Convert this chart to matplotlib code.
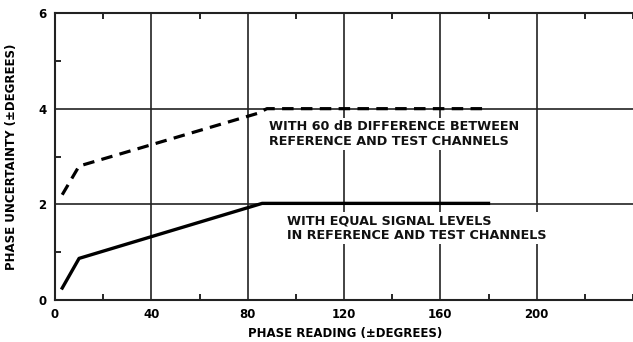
import matplotlib
matplotlib.use("Agg")
import matplotlib.pyplot as plt
from matplotlib.ticker import MultipleLocator

# Phase uncertainty vs phase reading
reading_60db = [3, 10, 84, 88, 180]
uncert_60db = [2.2, 2.8, 3.9, 4.0, 4.0]

reading_equal = [3, 10, 86, 180]
uncert_equal = [0.25, 0.87, 2.02, 2.02]

x_ticks = [0, 40, 80, 120, 160, 200]
y_ticks = [0, 2, 4, 6]

label_60db = "WITH 60 dB DIFFERENCE BETWEEN\nREFERENCE AND TEST CHANNELS"
label_equal = "WITH EQUAL SIGNAL LEVELS\nIN REFERENCE AND TEST CHANNELS"

plt.rcParams['font.family'] = ['DejaVu Sans']

fig = plt.figure(figsize=(6.33, 3.42), dpi=100)
ax = fig.add_axes([55 / 633, 1 - 300 / 342, 1 - 55 / 633, (300 - 13) / 342])

ax.set_xlim(0, 240)
ax.set_ylim(0, 6)

# grid
for xv in x_ticks[1:]:
    ax.axvline(xv, color='#222222', lw=1.2, zorder=1)
for yv in y_ticks[1:-1]:
    ax.axhline(yv, color='#222222', lw=1.2, zorder=1)

ax.plot(reading_60db, uncert_60db, color='black', lw=2.3, dashes=(3.6, 2.3),
        solid_capstyle='butt', zorder=3)
ax.plot(reading_equal, uncert_equal, color='black', lw=2.4, zorder=3)

txt_kw = dict(fontsize=9.2, fontweight='bold', color='#111111', va='center', ha='left',
              linespacing=1.15, zorder=4,
              bbox=dict(facecolor='white', edgecolor='none', pad=1.5))
ax.text(89, 3.47, label_60db, **txt_kw)
ax.text(96.5, 1.5, label_equal, **txt_kw)

ax.spines['right'].set_visible(False)
for s in ('left', 'bottom', 'top'):
    ax.spines[s].set_linewidth(1.5)
    ax.spines[s].set_color('#222222')

ax.set_xticks(x_ticks)
ax.set_yticks(y_ticks)
ax.xaxis.set_minor_locator(MultipleLocator(20))
ax.yaxis.set_minor_locator(MultipleLocator(1))
ax.tick_params(which='major', length=0, labelsize=8.5, pad=6)
ax.tick_params(which='minor', direction='in', length=4, width=1.2, top=True)
for lab in ax.get_xticklabels() + ax.get_yticklabels():
    lab.set_fontweight('bold')

ax.set_xlabel("PHASE READING (\u00b1DEGREES)", fontsize=8.5, fontweight='bold', labelpad=6)
ax.xaxis.set_label_coords((345 - 55) / 578, -27 / 287)
ax.set_ylabel("PHASE UNCERTAINTY (\u00b1DEGREES)", fontsize=8.5, fontweight='bold')
ax.yaxis.set_label_coords(-37 / 578, 0.5)

fig.savefig("out.png", dpi=100)
